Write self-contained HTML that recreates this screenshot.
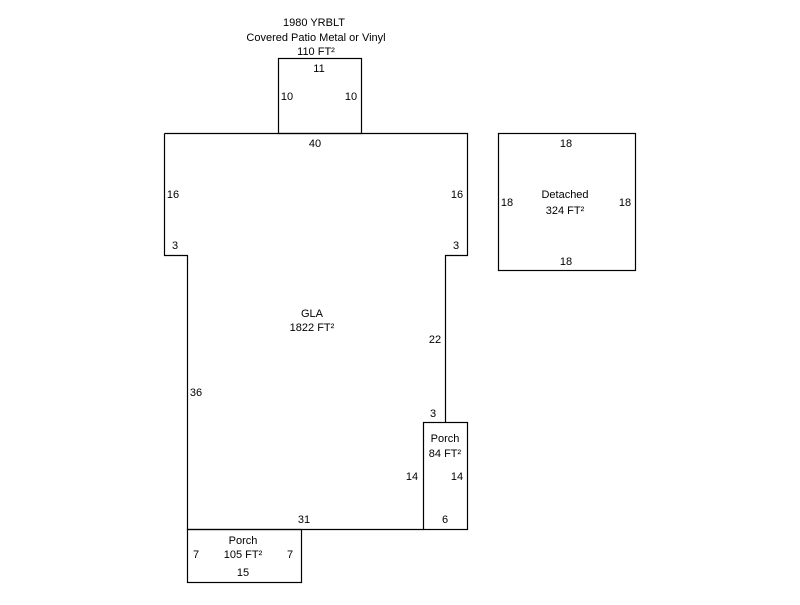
<!DOCTYPE html>
<html><head><style>
body{margin:0;background:#fff;}
svg text{font-family:"Liberation Sans",Arial,sans-serif;font-size:11px;fill:#000;}
</style></head><body>
<svg width="800" height="600" viewBox="0 0 800 600" xmlns="http://www.w3.org/2000/svg">
<g fill="none" stroke="#000" stroke-width="1.2">
<rect x="278.5" y="58.5" width="83" height="75"/>
<polyline points="164.5,133.5 467.5,133.5 467.5,255.5 445.5,255.5 445.5,422.5"/>
<polyline points="164.5,133.5 164.5,255.5 187.5,255.5 187.5,529.5 423.5,529.5"/>
<rect x="423.5" y="422.5" width="44" height="107"/>
<rect x="187.5" y="529.5" width="114" height="53"/>
<rect x="498.5" y="133.5" width="137" height="137"/>
</g>
<g text-anchor="middle">
<text x="314" y="26">1980 YRBLT</text>
<text x="316" y="41">Covered Patio Metal or Vinyl</text>
<text x="316" y="55">110 FT²</text>
<text x="319" y="72">11</text>
<text x="287" y="100">10</text>
<text x="351" y="100">10</text>
<text x="315" y="147">40</text>
<text x="173" y="198">16</text>
<text x="457" y="198">16</text>
<text x="175" y="249">3</text>
<text x="456" y="249">3</text>
<text x="312" y="317">GLA</text>
<text x="312" y="331">1822 FT²</text>
<text x="435" y="343">22</text>
<text x="196" y="396">36</text>
<text x="433" y="417">3</text>
<text x="445" y="442">Porch</text>
<text x="445" y="457">84 FT²</text>
<text x="412" y="480">14</text>
<text x="457" y="480">14</text>
<text x="304" y="523">31</text>
<text x="445" y="523">6</text>
<text x="243" y="544">Porch</text>
<text x="243" y="558">105 FT²</text>
<text x="196" y="558">7</text>
<text x="290" y="558">7</text>
<text x="243" y="576">15</text>
<text x="566" y="147">18</text>
<text x="565" y="198">Detached</text>
<text x="565" y="214">324 FT²</text>
<text x="507" y="206">18</text>
<text x="625" y="206">18</text>
<text x="566" y="265">18</text>
</g>
</svg>
</body></html>
